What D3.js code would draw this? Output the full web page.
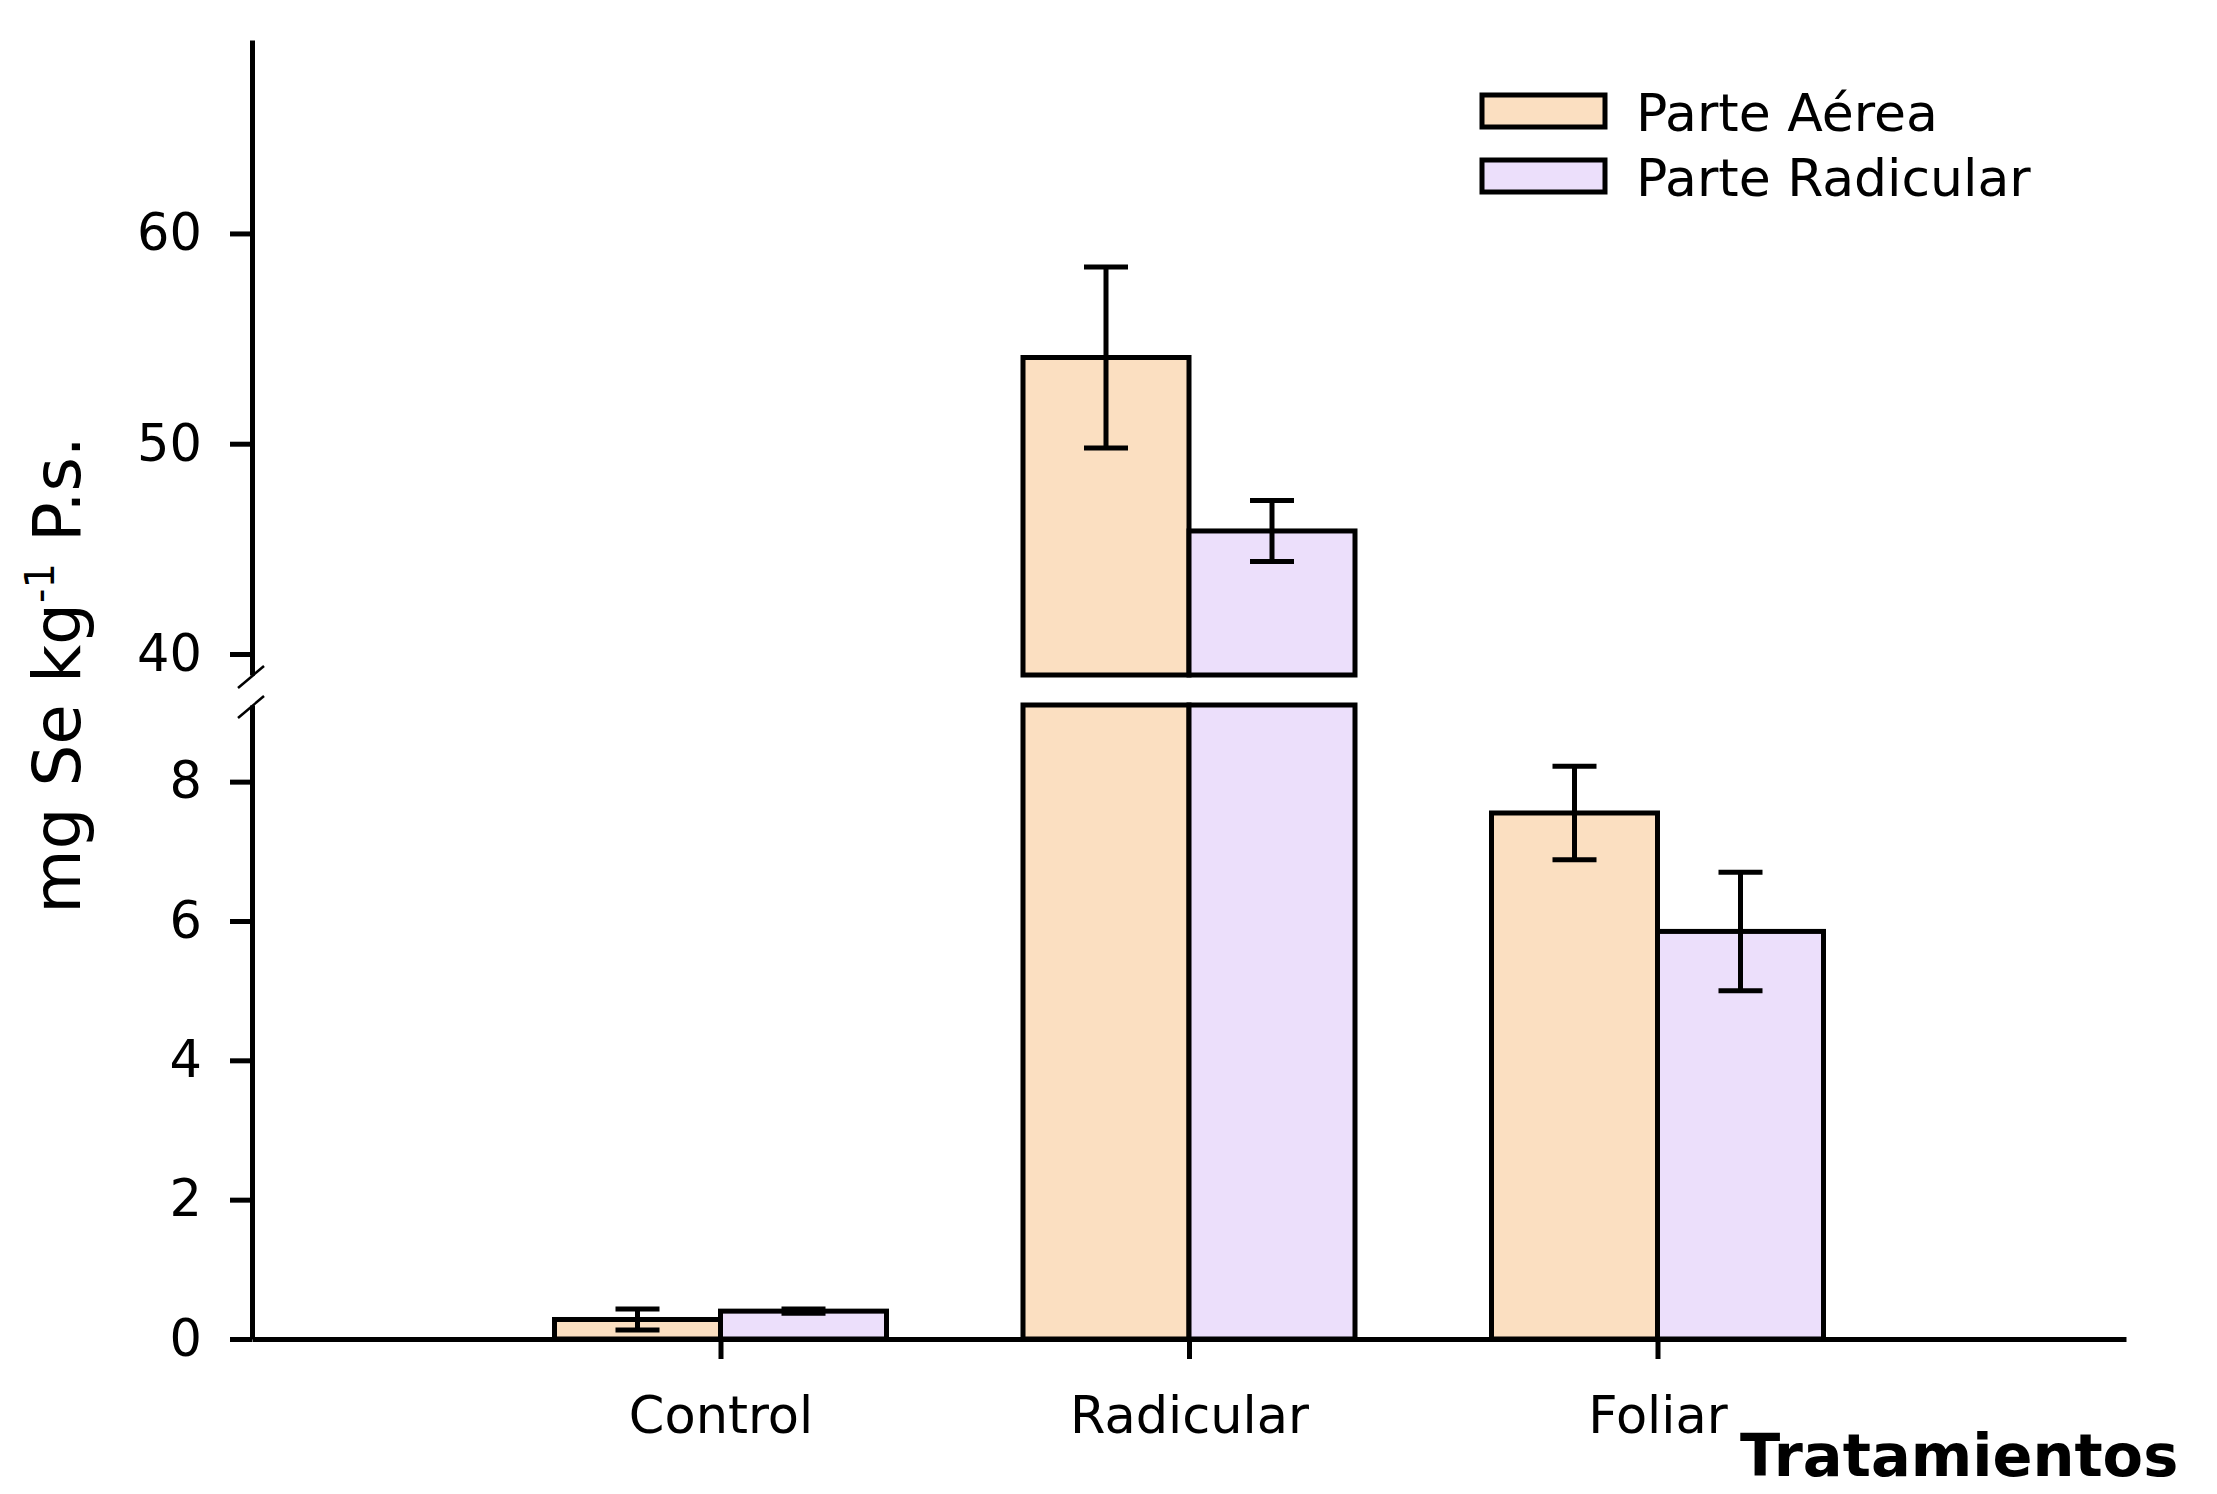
<!DOCTYPE html>
<html>
<head>
<meta charset="utf-8">
<script src="https://cdn.jsdelivr.net/npm/d3@7/dist/d3.min.js"></script>
<style>
	body { margin: 0; background: #fff; }
	.axis path, .axis line { stroke: #000; stroke-width: 5; }
	.axis text { font-family: "DejaVu Sans", sans-serif; font-size: 51px; fill: #000; }
</style>
</head>
<body>
<script>
// chart data
var categories = ["Control", "Radicular", "Foliar"];
var seriesNames = ["Parte Aérea", "Parte Radicular"];
var aereaMean = [0.28, 54.1, 7.55];
var aereaErr = [0.15, 4.3, 0.67];
var radicularMean = [0.40, 45.85, 5.85];
var radicularErr = [0.03, 1.45, 0.85];
var seriesColors = ["#fbdfc1", "#ecdffb"];
var lowerTicks = [0, 2, 4, 6, 8];
var upperTicks = [40, 50, 60];

// begin script when window loads
window.onload = setChart();

function setChart(){

	// frame dimensions
	var width = 2217,
	height = 1494;

	var svg = d3.select("body")
	.append("svg")
	.attr("width", width)
	.attr("height", height);

	svg.append("rect")
		.attr("width", width)
		.attr("height", height)
		.attr("fill", "#fff");

	// x position of each treatment
	var x = d3.scalePoint()
		.domain(categories)
		.range([252, 2126])
		.padding(1);

	// broken y axis: lower and upper part
	var lowerMax = 9.1;
	var yLow = d3.scaleLinear()
		.domain([0, lowerMax])
		.range([1339, 705]);
	var yUp = d3.scaleLinear()
		.domain([39, 69.2])
		.range([675, 40]);

	var barWidth = 166,
		capWidth = 44,
		lineW = 5;

	// one row per bar
	var rows = [];
	categories.forEach(function(c, i){
		rows.push({cat: c, s: 0, mean: aereaMean[i], err: aereaErr[i]});
		rows.push({cat: c, s: 1, mean: radicularMean[i], err: radicularErr[i]});
	});

	function barX(d){
		return x(d.cat) + (d.s === 0 ? -barWidth : 0);
	}
	function yVal(v){
		return v > lowerMax ? yUp(v) : yLow(v);
	}

	// lower part of bars
	svg.selectAll(".barLow")
		.data(rows)
		.enter()
		.append("rect")
		.attr("class", "barLow")
		.attr("x", barX)
		.attr("width", barWidth)
		.attr("y", function(d){ return yLow(Math.min(d.mean, lowerMax)); })
		.attr("height", function(d){ return yLow(0) - yLow(Math.min(d.mean, lowerMax)); })
		.attr("fill", function(d){ return seriesColors[d.s]; })
		.attr("stroke", "#000")
		.attr("stroke-width", lineW);

	// upper part of bars above the break
	svg.selectAll(".barUp")
		.data(rows.filter(function(d){ return d.mean > lowerMax; }))
		.enter()
		.append("rect")
		.attr("class", "barUp")
		.attr("x", barX)
		.attr("width", barWidth)
		.attr("y", function(d){ return yUp(d.mean); })
		.attr("height", function(d){ return yUp.range()[0] - yUp(d.mean); })
		.attr("fill", function(d){ return seriesColors[d.s]; })
		.attr("stroke", "#000")
		.attr("stroke-width", lineW);

	// error bars
	var err = svg.selectAll(".err")
		.data(rows)
		.enter()
		.append("g")
		.attr("class", "err")
		.attr("stroke", "#000")
		.attr("stroke-width", lineW);

	err.append("line")
		.attr("x1", function(d){ return barX(d) + barWidth / 2; })
		.attr("x2", function(d){ return barX(d) + barWidth / 2; })
		.attr("y1", function(d){ return yVal(d.mean + d.err); })
		.attr("y2", function(d){ return yVal(d.mean - d.err); });

	[1, -1].forEach(function(sign){
		err.append("line")
			.attr("x1", function(d){ return barX(d) + barWidth / 2 - capWidth / 2; })
			.attr("x2", function(d){ return barX(d) + barWidth / 2 + capWidth / 2; })
			.attr("y1", function(d){ return yVal(d.mean + sign * d.err); })
			.attr("y2", function(d){ return yVal(d.mean + sign * d.err); });
	});

	// x axis
	svg.append("g")
		.attr("class", "axis")
		.attr("transform", "translate(0," + yLow(0) + ")")
		.call(d3.axisBottom(x).tickSize(20).tickSizeOuter(0).tickPadding(38));

	// lower y axis
	svg.append("g")
		.attr("class", "axis")
		.attr("transform", "translate(252,0)")
		.call(d3.axisLeft(yLow).tickValues(lowerTicks).tickSize(22).tickSizeOuter(0).tickPadding(28));

	// upper y axis
	svg.append("g")
		.attr("class", "axis")
		.attr("transform", "translate(252,0)")
		.call(d3.axisLeft(yUp).tickValues(upperTicks).tickSize(22).tickSizeOuter(0).tickPadding(28));

	svg.selectAll(".axis .domain").attr("fill", "none");

	// break marks on the y axis
	[yUp.range()[0] + 2, yLow.range()[1] + 2].forEach(function(yb){
		svg.append("line")
			.attr("x1", 252 - 14).attr("y1", yb + 11)
			.attr("x2", 252 + 12).attr("y2", yb - 11)
			.attr("stroke", "#000")
			.attr("stroke-width", 2.5);
	});

	// y axis title
	var ytitle = svg.append("text")
		.attr("transform", "translate(80,675) rotate(-90)")
		.attr("text-anchor", "middle")
		.attr("font-family", "DejaVu Sans, sans-serif")
		.attr("font-size", 66)
		.attr("fill", "#000");
	ytitle.append("tspan").text("mg Se kg");
	ytitle.append("tspan").attr("font-size", 40).attr("dy", -26).text("-1");
	ytitle.append("tspan").attr("dy", 26).text(" P.s.");

	// x axis title
	svg.append("text")
		.attr("x", 1740)
		.attr("y", 1476)
		.attr("font-family", "DejaVu Sans, sans-serif")
		.attr("font-weight", "bold")
		.attr("font-size", 59)
		.attr("fill", "#000")
		.text("Tratamientos");

	// legend
	var legend = svg.selectAll(".legend")
		.data(seriesNames)
		.enter()
		.append("g")
		.attr("class", "legend")
		.attr("transform", function(d, i){ return "translate(1482," + (95 + i * 65) + ")"; });

	legend.append("rect")
		.attr("width", 123)
		.attr("height", 32)
		.attr("fill", function(d, i){ return seriesColors[i]; })
		.attr("stroke", "#000")
		.attr("stroke-width", lineW);

	legend.append("text")
		.attr("x", 154)
		.attr("y", 36)
		.attr("font-family", "DejaVu Sans, sans-serif")
		.attr("font-size", 52)
		.attr("fill", "#000")
		.text(function(d){ return d; });
};
</script>
</body>
</html>
